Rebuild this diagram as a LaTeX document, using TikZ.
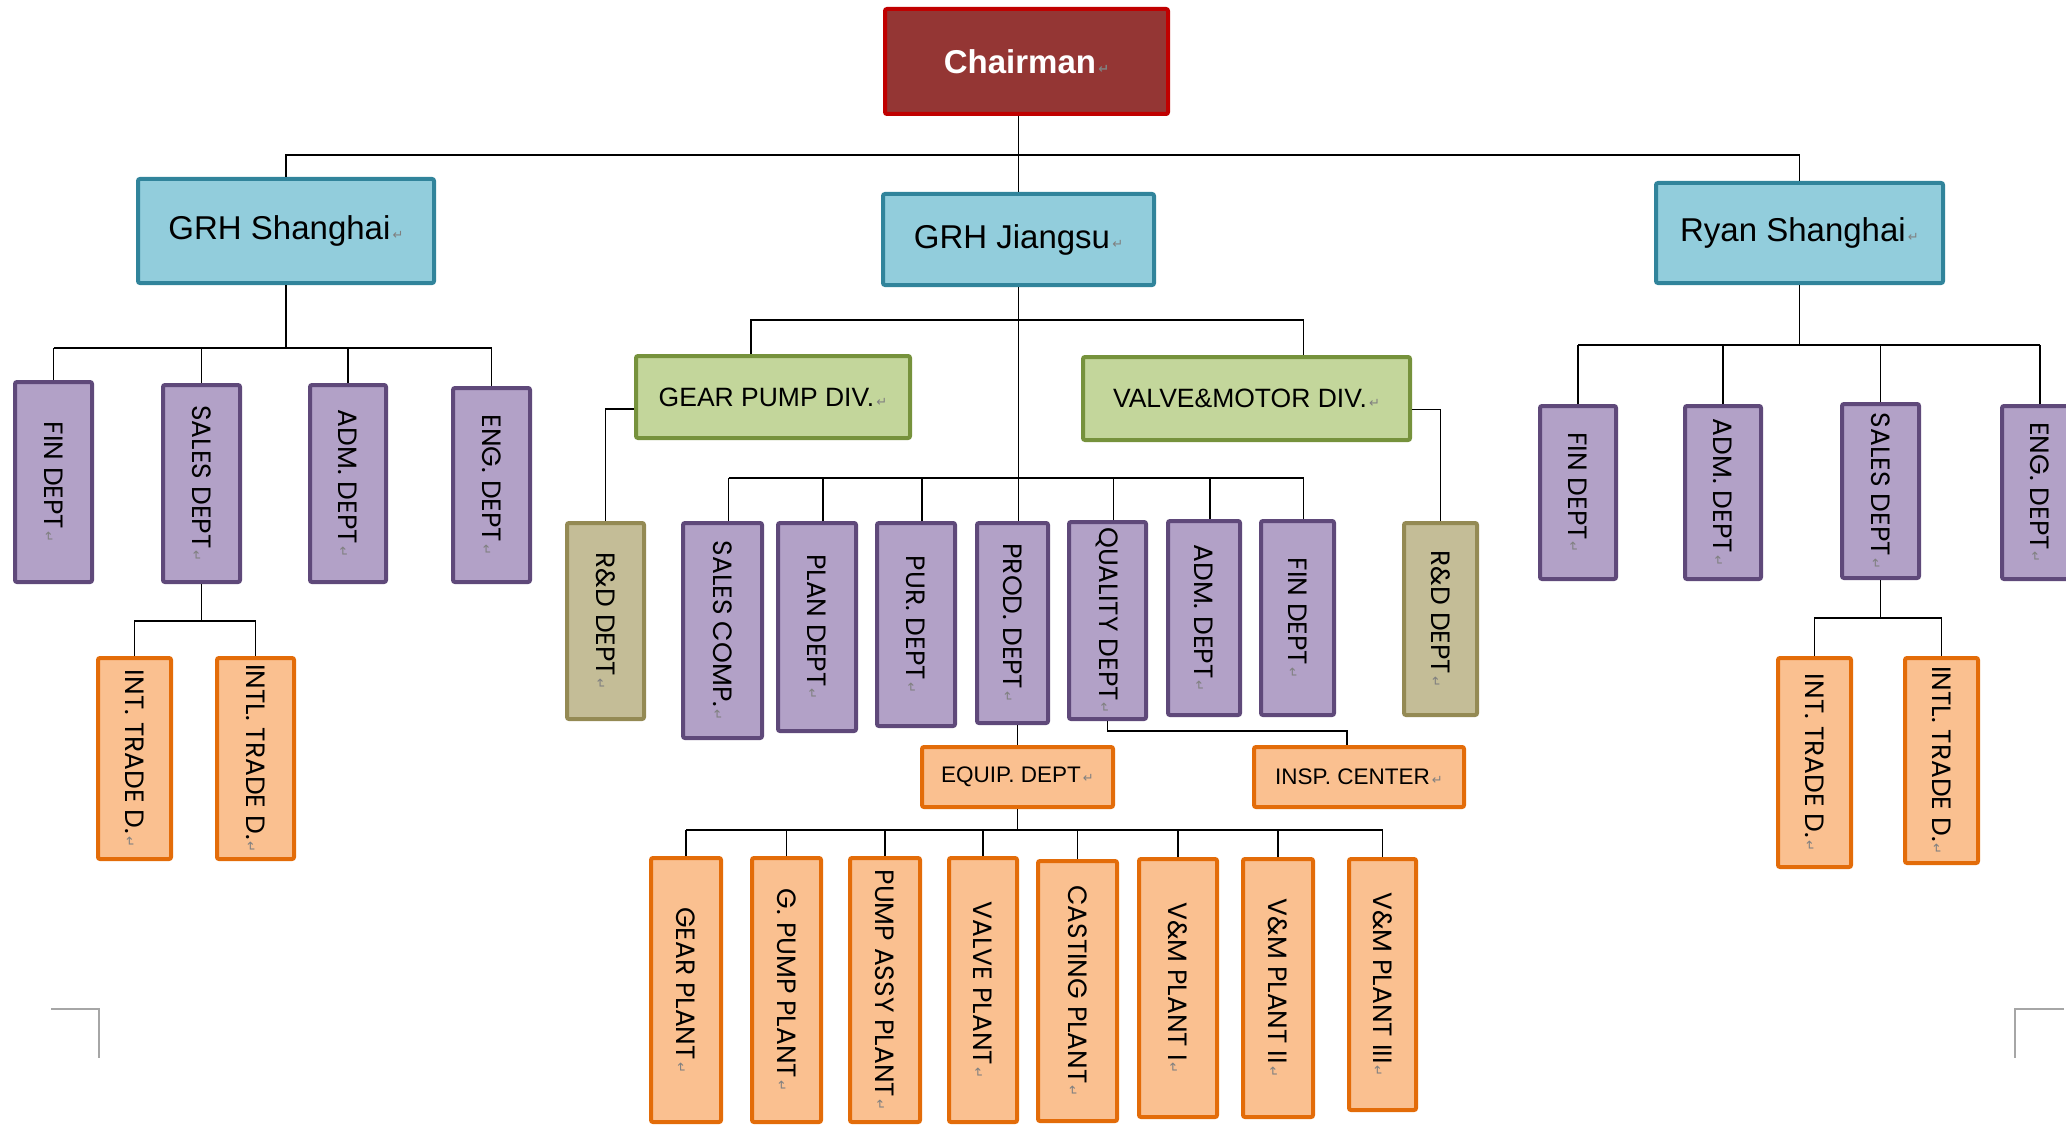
\documentclass[tikz,border=0pt]{standalone}
\usepackage{fontspec}
\setmainfont{Liberation Sans}
\newfontfamily\vfont{Poppins}
\newfontfamily\markfont{DejaVu Sans}
\usepackage{xcolor}
\usetikzlibrary{positioning}

\definecolor{chairfill}{HTML}{943634}
\definecolor{chairline}{HTML}{C00000}
\definecolor{compfill}{HTML}{92CDDC}
\definecolor{compline}{HTML}{31849B}
\definecolor{divfill}{HTML}{C3D69B}
\definecolor{divline}{HTML}{76923C}
\definecolor{deptfill}{HTML}{B2A1C7}
\definecolor{deptline}{HTML}{5F497A}
\definecolor{rndfill}{HTML}{C4BD97}
\definecolor{rndline}{HTML}{948A54}
\definecolor{unitfill}{HTML}{FAC090}
\definecolor{unitline}{HTML}{E36C09}
\definecolor{markgray}{HTML}{808080}
\definecolor{cropgray}{HTML}{A6A6A6}

\newcommand{\rmk}{{\markfont\fontsize{13}{13}\selectfont\color{markgray}\,↵}}
\newcommand{\vtxt}[1]{\rotatebox{-90}{#1\rmk}}

\begin{document}
\begin{tikzpicture}[x=1pt,y=-1pt,thick,
    box/.style={draw,line width=4pt,rounded corners=2pt,inner sep=0pt,align=center},
    wh/.style 2 args={minimum width=#1pt,minimum height=#2pt},
    top/.style={box,fill=chairfill,draw=chairline,text=white,font=\fontsize{33}{36}\selectfont\bfseries},
    comp/.style={box,fill=compfill,draw=compline,font=\fontsize{33}{36}\selectfont},
    div/.style={box,fill=divfill,draw=divline,font=\fontsize{26.5}{30}\selectfont},
    dept/.style={box,fill=deptfill,draw=deptline,font=\vfont\fontsize{26.5}{28}\selectfont},
    rnd/.style={box,fill=rndfill,draw=rndline,font=\vfont\fontsize{26.5}{28}\selectfont},
    unit/.style={box,fill=unitfill,draw=unitline,font=\vfont\fontsize{26.5}{28}\selectfont},
    flat/.style={font=\fontsize{22.5}{25}\selectfont},
    link/.style={line width=1.5pt}]

    \useasboundingbox (0,0) rectangle (2066,1126);

    % The chart
    \node [top, wh={283}{105}] at (1026.5,61.5) (CH) {Chairman\rmk};
    \node [comp, wh={296}{104}] at (286,231) (GS) {GRH Shanghai\rmk};
    \node [comp, wh={271}{91}] at (1018.5,239.5) (GJ) {GRH Jiangsu\rmk};
    \node [comp, wh={287}{100}] at (1799.5,233) (RS) {Ryan Shanghai\rmk};

    % GRH Shanghai
    \node [dept, wh={77}{200}] at (53.5,482) (GSfin) {\vtxt{FIN DEPT}};
    \node [dept, wh={77}{197}] at (201.5,483.5) (GSsales) {\vtxt{SALES DEPT}};
    \node [dept, wh={76}{197}] at (348,483.5) (GSadm) {\vtxt{ADM. DEPT}};
    \node [dept, wh={77}{194}] at (491.5,485) (GSeng) {\vtxt{ENG. DEPT}};
    \node [unit, wh={73}{201}] at (134.5,758.5) (GSint) {\vtxt{INT. TRADE D.}};
    \node [unit, wh={77}{201}] at (255.5,758.5) (GSintl) {\vtxt{INTL. TRADE D.}};

    % GRH Jiangsu
    \node [div, wh={274}{82}] at (773,397) (GP) {GEAR PUMP DIV.\rmk};
    \node [div, wh={327}{83}] at (1246.5,398.5) (VM) {VALVE\&MOTOR DIV.\rmk};
    \node [rnd, wh={77}{196}] at (605.5,621) (RDl) {\vtxt{R\&D DEPT}};
    \node [rnd, wh={73}{192}] at (1440.5,619) (RDr) {\vtxt{R\&D DEPT}};
    \node [dept, wh={79}{215}] at (722.5,630.5) (SC) {\vtxt{SALES COMP.}};
    \node [dept, wh={78}{208}] at (817,627) (PL) {\vtxt{PLAN DEPT}};
    \node [dept, wh={78}{203}] at (916,624.5) (PU) {\vtxt{PUR. DEPT}};
    \node [dept, wh={71}{200}] at (1012.5,623) (PR) {\vtxt{PROD. DEPT}};
    \node [dept, wh={77}{197}] at (1107.5,620.5) (QU) {\vtxt{QUALITY DEPT}};
    \node [dept, wh={72}{194}] at (1204,618) (AD) {\vtxt{ADM. DEPT}};
    \node [dept, wh={73}{194}] at (1297.5,618) (FI) {\vtxt{FIN DEPT}};
    \node [unit, flat, wh={191}{60}] at (1017.5,777) (EQ) {EQUIP. DEPT\rmk};
    \node [unit, flat, wh={210}{60}] at (1359,777) (IC) {INSP. CENTER\rmk};

    % Plants
    \node [unit, wh={70}{264}] at (686,990) (P1) {\vtxt{GEAR PLANT}};
    \node [unit, wh={69}{264}] at (786.5,990) (P2) {\vtxt{G. PUMP PLANT}};
    \node [unit, wh={70}{264}] at (885,990) (P3) {\vtxt{PUMP ASSY PLANT}};
    \node [unit, wh={68}{264}] at (983,990) (P4) {\vtxt{VALVE PLANT}};
    \node [unit, wh={79}{260}] at (1077.5,991) (P5) {\vtxt{CASTING PLANT}};
    \node [unit, wh={78}{258}] at (1178,988) (P6) {\vtxt{V\&M PLANT I}};
    \node [unit, wh={70}{258}] at (1278,988) (P7) {\vtxt{V\&M PLANT II}};
    \node [unit, wh={67}{251}] at (1382.5,984.5) (P8) {\vtxt{V\&M PLANT III}};

    % Ryan Shanghai
    \node [dept, wh={76}{173}] at (1578,492.5) (RSfin) {\vtxt{FIN DEPT}};
    \node [dept, wh={76}{173}] at (1723,492.5) (RSadm) {\vtxt{ADM. DEPT}};
    \node [dept, wh={77}{174}] at (1880.5,491) (RSsales) {\vtxt{SALES DEPT}};
    \node [dept, wh={76}{173}] at (2040,492.5) (RSeng) {\vtxt{ENG. DEPT}};
    \node [unit, wh={73}{209}] at (1814.5,762.5) (RSint) {\vtxt{INT. TRADE D.}};
    \node [unit, wh={73}{205}] at (1941.5,760.5) (RSintl) {\vtxt{INTL. TRADE D.}};

    % Chart edges
    \coordinate (b0) at (0,155);
    \draw [link] (GJ.north |- CH.south) -- (GJ.north);
    \draw [link] (GS.north) -- (GS.north |- b0) -- (RS.north |- b0) -- (RS.north);

    \coordinate (b1) at (0,348);
    \draw [link] (GS.south) -- (GS.south |- b1);
    \draw [link] (GSfin.north |- b1) -- (GSeng.north |- b1);
    \foreach \n in {GSfin,GSsales,GSadm,GSeng}
        \draw [link] (\n.north) -- (\n.north |- b1);
    \coordinate (b2) at (0,621);
    \draw [link] (GSsales.south) -- (GSsales.south |- b2);
    \draw [link] (GSint.north) -- (GSint.north |- b2) -- (GSintl.north |- b2) -- (GSintl.north);

    \coordinate (b3) at (0,320);
    \draw [link] (GJ.south) -- (GJ.south |- PR.north);
    \draw [link] ([xshift=-22pt]GP.north) -- ([xshift=-22pt]GP.north |- b3)
        -- ([xshift=57pt]VM.north |- b3) -- ([xshift=57pt]VM.north);
    \draw [link] ([yshift=-12pt]GP.west) -| (RDl.north);
    \draw [link] ([yshift=-11pt]VM.east) -| (RDr.north);
    \coordinate (b4) at (0,478);
    \draw [link] ([xshift=6pt]SC.north |- b4) -- ([xshift=6pt]FI.north |- b4);
    \foreach \n in {SC,PL,PU,QU,AD,FI}
        \draw [link] ([xshift=6pt]\n.north) -- ([xshift=6pt]\n.north |- b4);
    \draw [link] (EQ.north |- PR.south) -- (EQ.north);
    \draw [link] (QU.south) -- ++(0,10) -| ([xshift=-12pt]IC.north);
    \coordinate (b5) at (0,830);
    \draw [link] (EQ.south) -- (EQ.south |- b5);
    \draw [link] (P1.north |- b5) -- (P8.north |- b5);
    \foreach \n in {P1,P2,P3,P4,P5,P6,P7,P8}
        \draw [link] (\n.north) -- (\n.north |- b5);

    \coordinate (b6) at (0,345);
    \draw [link] (RS.south) -- (RS.south |- b6);
    \draw [link] (RSfin.north |- b6) -- (RSeng.north |- b6);
    \foreach \n in {RSfin,RSadm,RSsales,RSeng}
        \draw [link] (\n.north) -- (\n.north |- b6);
    \coordinate (b7) at (0,618);
    \draw [link] (RSsales.south) -- (RSsales.south |- b7);
    \draw [link] (RSint.north) -- (RSint.north |- b7) -- (RSintl.north |- b7) -- (RSintl.north);

    % crop marks
    \draw [link, cropgray] (51,1009) -- (99,1009) -- (99,1058);
    \draw [link, cropgray] (2064,1009) -- (2015,1009) -- (2015,1058);

\end{tikzpicture}
\end{document}
